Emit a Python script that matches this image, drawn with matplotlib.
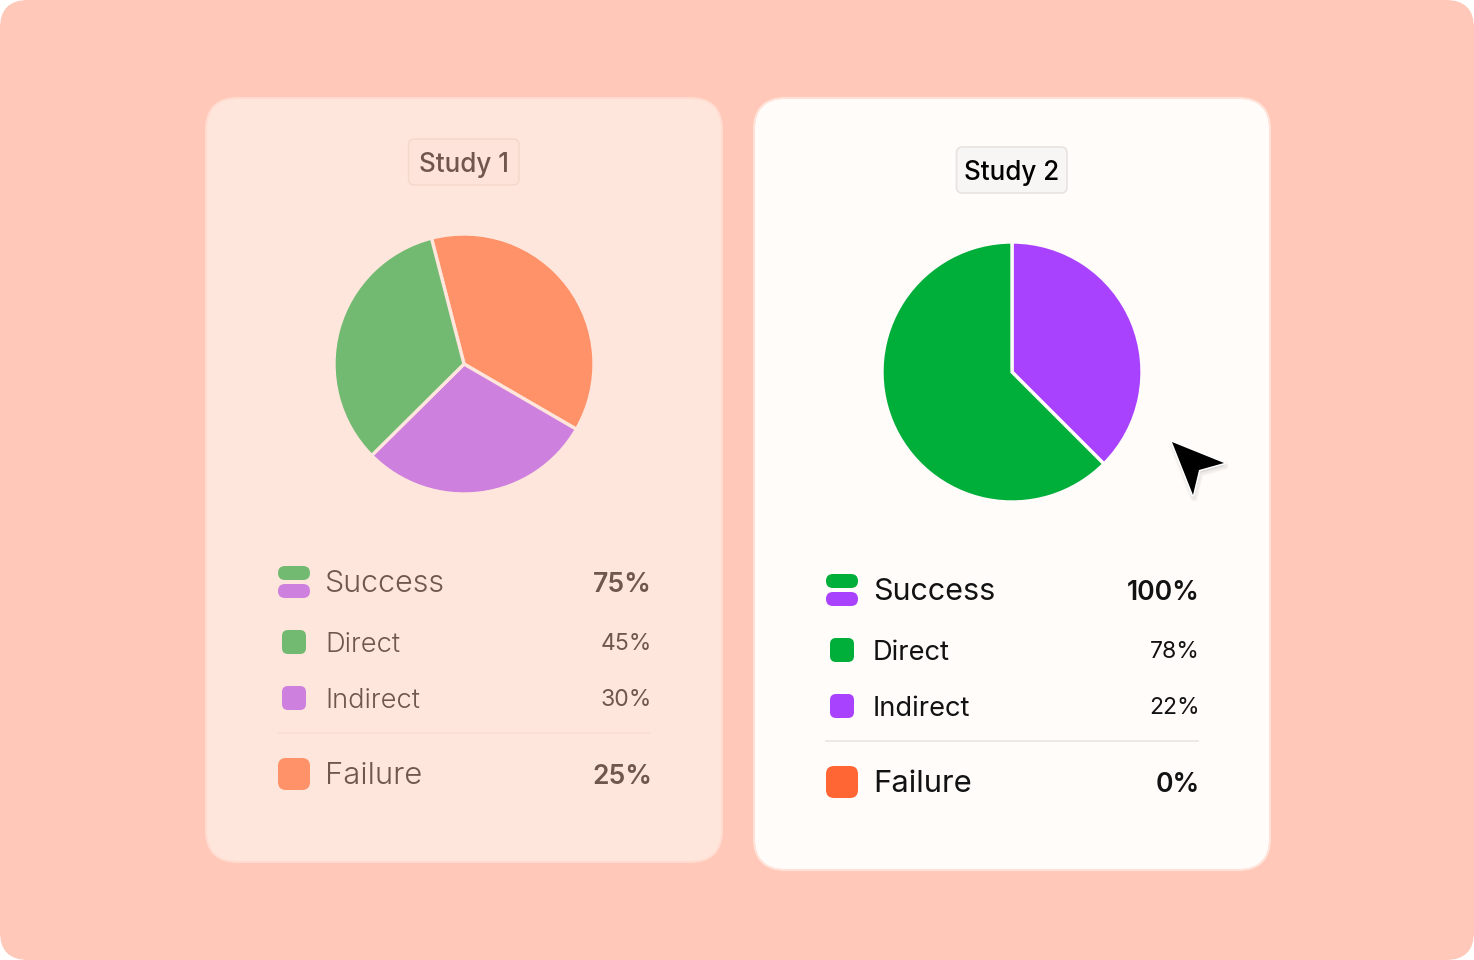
import matplotlib
matplotlib.use("Agg")
import matplotlib.pyplot as plt
from matplotlib.patches import FancyBboxPatch, Polygon

W, H = 1474, 960

# --- data ---
study_titles = ["Study 1", "Study 2"]
row_labels = ["Success", "Direct", "Indirect", "Failure"]
study1_pct = ["75%", "45%", "30%", "25%"]
study2_pct = ["100%", "78%", "22%", "0%"]
pie1_values = [37.4, 29.2, 33.4]   # failure, indirect, direct
pie2_values = [37.5, 62.5]         # indirect, direct

# --- styles ---
BG = "#FFC8B8"
FONT = ["Inter", "DejaVu Sans"]
theme1 = dict(panel="#FFE6DC", border="#FFDCCF", text="#6F574D", badge="#FDE3D9",
              badge_edge="#F6D9CD", rule="#F9DED3", green="#72BA72", purple="#CE80DE",
              orange="#FF9268", title_text="#6F574D")
theme2 = dict(panel="#FFFCFA", border="#FFE3D9", text="#121212", badge="#F8F6F4",
              badge_edge="#E6E3E0", rule="#E8E6E3", green="#00AE3A", purple="#A942FF",
              orange="#FF6633", title_text="#000000")

fig = plt.figure(figsize=(W / 100, H / 100), dpi=100, facecolor="white")
ax = fig.add_axes([0, 0, 1, 1])
ax.set_xlim(0, W)
ax.set_ylim(H, 0)
ax.axis("off")


def rrect(x0, y0, x1, y1, r, fc, ec="none", lw=0, z=1):
    p = FancyBboxPatch((x0, y0), x1 - x0, y1 - y0,
                       boxstyle=f"round,pad=0,rounding_size={r}",
                       fc=fc, ec=ec, lw=lw, zorder=z, mutation_aspect=1)
    ax.add_patch(p)


def txt(x, y, s, size_px, color, weight=400, ha="left"):
    ax.text(x, y, s, fontsize=size_px * 0.72, color=color, fontweight=weight,
            ha=ha, va="baseline", family=FONT, zorder=5)


rrect(0, 0, W, H, 28, BG, z=0)


def panel(dx, dy, theme, title, pct):
    rrect(206 + dx, 98, 722 + dx, 862 + dy, 32, theme["panel"], theme["border"], 1.5)
    rrect(408.5 + dx, 139 + dy, 519 + dx, 185 + dy, 6, theme["badge"], theme["badge_edge"], 1.2, 2)
    txt(464 + dx, 172 + dy, title, 26, theme["title_text"], 500, "center")

    rrect(278 + dx, 566 + dy, 310 + dx, 580 + dy, 7, theme["green"], z=3)
    rrect(278 + dx, 584 + dy, 310 + dx, 598 + dy, 7, theme["purple"], z=3)
    rrect(282 + dx, 630 + dy, 306 + dx, 654 + dy, 6, theme["green"], z=3)
    rrect(282 + dx, 686 + dy, 306 + dx, 710 + dy, 6, theme["purple"], z=3)
    rrect(278 + dx, 758 + dy, 310 + dx, 790 + dy, 8, theme["orange"], z=3)

    ax.plot([278 + dx, 650 + dx], [733 + dy, 733 + dy], color=theme["rule"], lw=1.2, zorder=2)

    base = [592, 652, 708, 784]
    pct_base = [592, 650, 706, 784]
    sizes = [30.5, 27.3, 27.3, 31]
    pct_sizes = [26.5, 23, 23, 26.5]
    pct_weights = [600, 400, 400, 600]
    for lab, p, b, pb, s, ps, pw in zip(row_labels, pct, base, pct_base, sizes, pct_sizes, pct_weights):
        txt(325 + dx, b + dy, lab, s, theme["text"], 300 if theme is theme1 else 400)
        txt(652 + dx, pb + dy, p, ps, theme["text"], pw, "right")


panel(0, 0, theme1, study_titles[0], study1_pct)
panel(548, 8, theme2, study_titles[1], study2_pct)


def draw_pie(cx, cy, r, values, colors, start, edge, lw):
    a = fig.add_axes([(cx - r) / W, 1 - (cy + r) / H, 2 * r / W, 2 * r / H])
    a.pie(values, colors=colors, startangle=start, counterclock=False, radius=1.0,
          wedgeprops=dict(edgecolor=edge, linewidth=lw, joinstyle="miter"))
    a.set_xlim(-1, 1)
    a.set_ylim(-1, 1)
    a.axis("off")
    a.patch.set_alpha(0)


draw_pie(464, 364, 130, pie1_values,
         [theme1["orange"], theme1["purple"], theme1["green"]], 104.5, theme1["panel"], 2.4)
draw_pie(1012, 372, 130, pie2_values,
         [theme2["purple"], theme2["green"]], 90, theme2["panel"], 2.4)

# cursor
cursor = [(1172, 442), (1224, 463), (1199, 470), (1193, 495)]
for off, al in [(6, 0.012), (5, 0.015), (4, 0.02), (3, 0.025)]:
    ax.add_patch(Polygon([(x + 1, y + 3) for x, y in cursor], closed=True, fc="black",
                         ec="black", lw=off, alpha=al, zorder=6, joinstyle="round"))
ax.add_patch(Polygon(cursor, closed=True, fc="black", ec="white", lw=2.2, zorder=7,
                     joinstyle="round"))
ax.add_patch(Polygon(cursor, closed=True, fc="black", ec="none", zorder=8))

fig.savefig("out.png", dpi=100)
